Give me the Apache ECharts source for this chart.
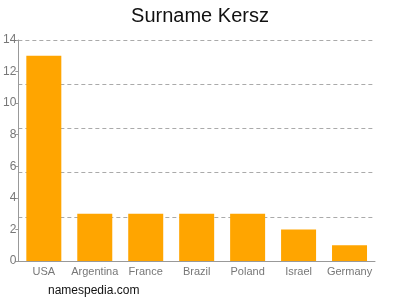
<!DOCTYPE html>
<html>
<head>
<meta charset="utf-8">
<style>
    html,body{margin:0;padding:0;background:#fff;}
    #main{width:400px;height:300px;}
</style>
</head>
<body>
<div id="main"></div>
<script src="https://cdn.jsdelivr.net/npm/echarts@6/dist/echarts.min.js"></script>
<script>
    var countries = ['USA', 'Argentina', 'France', 'Brazil', 'Poland', 'Israel', 'Germany'];
    var counts = [13, 3, 3, 3, 3, 2, 1];
    var yTicks = [0, 2, 4, 6, 8, 10, 12, 14];

    var myChart = echarts.init(document.getElementById('main'));

    myChart.setOption({
        animation: false,
        title: {
            text: 'Surname Kersz',
            left: 'center',
            top: 1,
            textStyle: {color: '#111', fontSize: 20, fontWeight: 'normal', fontFamily: 'Liberation Sans, Arial'}
        },
        graphic: [{
            type: 'text',
            left: 48,
            top: 285,
            style: {text: 'namespedia.com', fill: '#111', fontSize: 12, fontFamily: 'Liberation Sans, Arial'}
        }],
        grid: {left: 17, right: 25, top: 40, bottom: 39},
        xAxis: {
            type: 'category',
            data: countries,
            axisLine: {lineStyle: {color: '#999'}},
            axisTick: {alignWithLabel: true, length: 4, lineStyle: {color: '#999'}},
            axisLabel: {color: '#777', fontSize: 11, margin: 5, interval: 0, fontFamily: 'Liberation Sans, Arial'}
        },
        yAxis: [{
            type: 'value',
            min: yTicks[0],
            max: yTicks[yTicks.length - 1],
            interval: 2,
            axisLine: {show: true, lineStyle: {color: '#999'}},
            axisTick: {show: true, length: 3, lineStyle: {color: '#999'}},
            axisLabel: {color: '#777', fontSize: 12, margin: 2, fontFamily: 'Liberation Sans, Arial'},
            splitLine: {show: false}
        }, {
            // dashed guide lines sit at fifths of the range, not on the ticks
            type: 'value',
            min: 0,
            max: 14,
            interval: 2.8,
            position: 'left',
            axisLine: {show: false},
            axisTick: {show: false},
            axisLabel: {show: false},
            splitLine: {show: true, lineStyle: {color: '#aaa', type: [4, 3], width: 1}}
        }],
        series: [{
            type: 'bar',
            data: counts,
            barWidth: 35,
            itemStyle: {color: '#FFA500'}
        }]
    });
</script>
</body>
</html>
